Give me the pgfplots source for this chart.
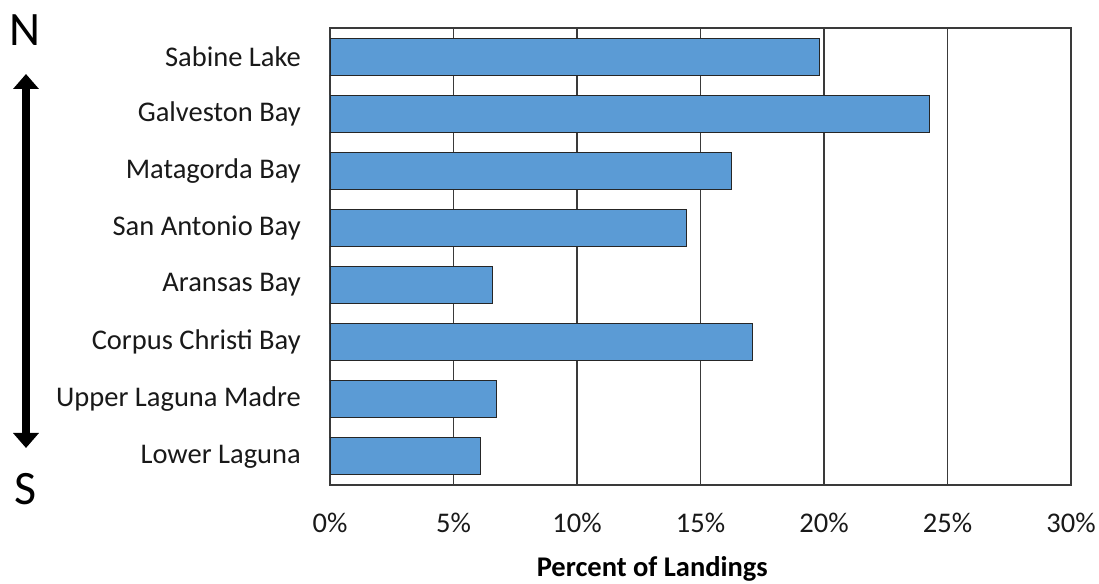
\documentclass[border=0pt]{standalone}
\usepackage{fontspec}
\setmainfont{Carlito}
\usepackage{pgfplots}
\pgfplotsset{compat=1.18}
\usetikzlibrary{arrows.meta}
\definecolor{barblue}{HTML}{5B9BD5}
\definecolor{edge}{HTML}{262626}
\definecolor{gridc}{HTML}{3A3A3A}
\begin{document}
\begin{tikzpicture}
\useasboundingbox (-330bp,-99bp) rectangle (769bp,485bp);
\begin{axis}[
  scale only axis,
  width=741bp, height=457bp,
  xmin=0, xmax=30,
  ymin=-0.5, ymax=7.5,
  y dir=reverse,
  xtick={0,5,10,15,20,25,30},
  xticklabels={0\%,5\%,10\%,15\%,20\%,25\%,30\%},
  ytick={0,1,2,3,4,5,6,7},
  yticklabels={Sabine Lake,Galveston Bay,Matagorda Bay,San Antonio Bay,Aransas Bay,Corpus Christi Bay,Upper Laguna Madre,Lower Laguna},
  major tick length=0pt,
  xmajorgrids,
  major grid style={gridc, line width=1.1bp},
  axis line style={gridc, line width=1.1bp},
  tick label style={font=\fontsize{28.5bp}{32bp}\selectfont, text=black!90, inner sep=0pt},
  xticklabel style={anchor=base, yshift=-47bp},
  yticklabel style={anchor=east, xshift=-29bp},
  xlabel={\textbf{Percent of Landings}},
  xlabel style={font=\fontsize{28.5bp}{32bp}\selectfont, at={(axis description cs:0.435,0)}, anchor=base, yshift=-91bp, inner sep=0pt},
]
\addplot[xbar, bar width=37bp, fill=barblue, draw=edge, line width=1.1bp] coordinates {
  (19.83,0) (24.26,1) (16.27,2) (14.45,3) (6.57,4) (17.12,5) (6.74,6) (6.08,7)
};
\end{axis}
\node[font=\fontsize{48bp}{52bp}\selectfont, inner sep=0pt] at (-305bp,455bp) {N};
\node[font=\fontsize{48bp}{52bp}\selectfont, inner sep=0pt] at (-304bp,-4bp) {S};
\draw[line width=8bp, {Triangle[length=15bp,width=25bp]}-{Triangle[length=15bp,width=25bp]}] (-304bp,411bp) -- (-304bp,37bp);
\end{tikzpicture}
\end{document}
